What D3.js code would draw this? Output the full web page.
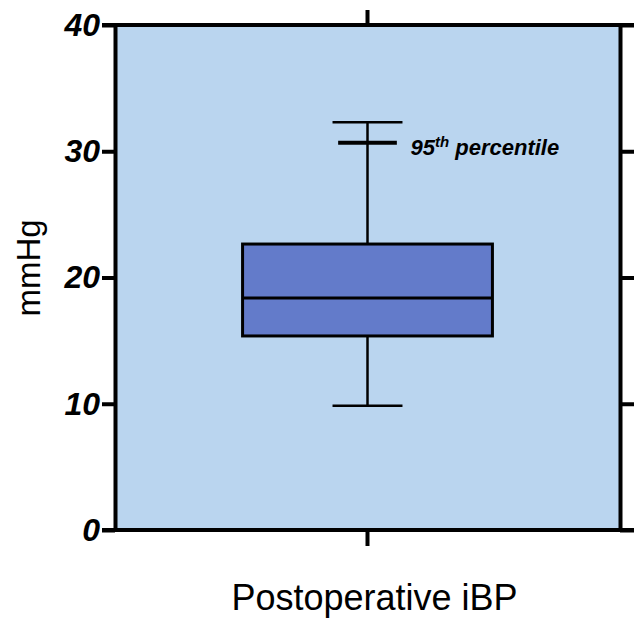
<!DOCTYPE html>
<html>
<head>
<meta charset="utf-8">
<script src="https://cdn.jsdelivr.net/npm/d3@7"></script>
<style>
  html, body { margin: 0; padding: 0; background: #ffffff; }
  svg { display: block; }
</style>
</head>
<body>
<svg id="chart" width="636" height="619"></svg>
<script>
// ---- data ----
const categories = ["Postoperative iBP"];
const whiskerLow = [9.85];
const q1 = [15.37];
const median = [18.38];
const q3 = [22.65];
const whiskerHigh = [32.3];
const p95 = [30.68];
const yTicks = [0, 10, 20, 30, 40];
const yTitle = "mmHg";

// ---- layout ----
const mLeft = 115, mRight = 620, mTop = 25, mBottom = 530;
const svg = d3.select("#chart");
const font = "'Liberation Sans', Arial, Helvetica, sans-serif";

const y = d3.scaleLinear().domain([0, 40]).range([mBottom, mTop]);
const x = d3.scaleBand().domain(categories).range([mLeft, mRight]).padding(0.338);

// plot background
svg.append("rect")
  .attr("x", mLeft).attr("y", mTop)
  .attr("width", mRight - mLeft).attr("height", mBottom - mTop)
  .attr("fill", "#BAD5EF");

// box plot
const g = svg.append("g");
categories.forEach((c, i) => {
  const cx = x(c) + x.bandwidth() / 2;
  const bw = x.bandwidth();
  const capW = bw * 0.28;
  const pW = bw * 0.235;
  g.append("line")
    .attr("x1", cx).attr("x2", cx)
    .attr("y1", y(whiskerLow[i])).attr("y2", y(whiskerHigh[i]))
    .attr("stroke", "#000").attr("stroke-width", 2.5);
  [whiskerLow[i], whiskerHigh[i]].forEach(v => {
    g.append("line")
      .attr("x1", cx - capW / 2).attr("x2", cx + capW / 2)
      .attr("y1", y(v)).attr("y2", y(v))
      .attr("stroke", "#000").attr("stroke-width", 2.5);
  });
  g.append("rect")
    .attr("x", x(c)).attr("y", y(q3[i]))
    .attr("width", bw).attr("height", y(q1[i]) - y(q3[i]))
    .attr("fill", "#637BCA").attr("stroke", "#000").attr("stroke-width", 3);
  g.append("line")
    .attr("x1", x(c)).attr("x2", x(c) + bw)
    .attr("y1", y(median[i])).attr("y2", y(median[i]))
    .attr("stroke", "#000").attr("stroke-width", 3);
  g.append("line")
    .attr("x1", cx - pW / 2).attr("x2", cx + pW / 2)
    .attr("y1", y(p95[i])).attr("y2", y(p95[i]))
    .attr("stroke", "#000").attr("stroke-width", 4);
  const t = g.append("text")
    .attr("x", cx + 43).attr("y", y(p95[i]) + 12)
    .attr("font-family", font).attr("font-weight", "bold").attr("font-style", "italic")
    .attr("font-size", 22).attr("fill", "#000");
  t.append("tspan").text("95");
  t.append("tspan").attr("font-size", 15).attr("dy", -8).text("th");
  t.append("tspan").attr("dy", 8).text(" percentile");
});

// axes
function styleAxis(sel) {
  sel.select(".domain").attr("stroke", "#000").attr("stroke-width", 4);
  sel.selectAll(".tick line").attr("stroke", "#000").attr("stroke-width", 4);
}

const yAxis = svg.append("g").attr("transform", `translate(${mLeft},0)`)
  .call(d3.axisLeft(y).tickValues(yTicks).tickSize(13).tickSizeOuter(0).tickPadding(2));
styleAxis(yAxis);
yAxis.selectAll(".tick text")
  .attr("font-family", font).attr("font-weight", "bold").attr("font-style", "italic")
  .attr("font-size", 32).attr("fill", "#000");

const yAxisR = svg.append("g").attr("transform", `translate(${mRight},0)`)
  .call(d3.axisRight(y).tickValues(yTicks).tickSize(14).tickSizeOuter(0).tickFormat(""));
styleAxis(yAxisR);

const xAxis = svg.append("g").attr("transform", `translate(0,${mBottom})`)
  .call(d3.axisBottom(x).tickSize(16).tickSizeOuter(0).tickFormat(""));
styleAxis(xAxis);
xAxis.select(".domain").attr("d", `M${mLeft - 13},0H${mRight + 14}`);

const xAxisT = svg.append("g").attr("transform", `translate(0,${mTop})`)
  .call(d3.axisTop(x).tickSize(15).tickSizeOuter(0).tickFormat(""));
styleAxis(xAxisT);
xAxisT.select(".domain").attr("d", `M${mLeft - 13},0H${mRight + 14}`);

// titles
svg.append("text")
  .attr("x", (mLeft + mRight) / 2 + 7).attr("y", 610)
  .attr("text-anchor", "middle")
  .attr("font-family", font).attr("font-size", 36).attr("fill", "#000")
  .text(categories[0]);

svg.append("text")
  .attr("transform", `translate(40,268) rotate(-90)`)
  .attr("text-anchor", "middle")
  .attr("font-family", font).attr("font-size", 33).attr("fill", "#000")
  .text(yTitle);
</script>
</body>
</html>
